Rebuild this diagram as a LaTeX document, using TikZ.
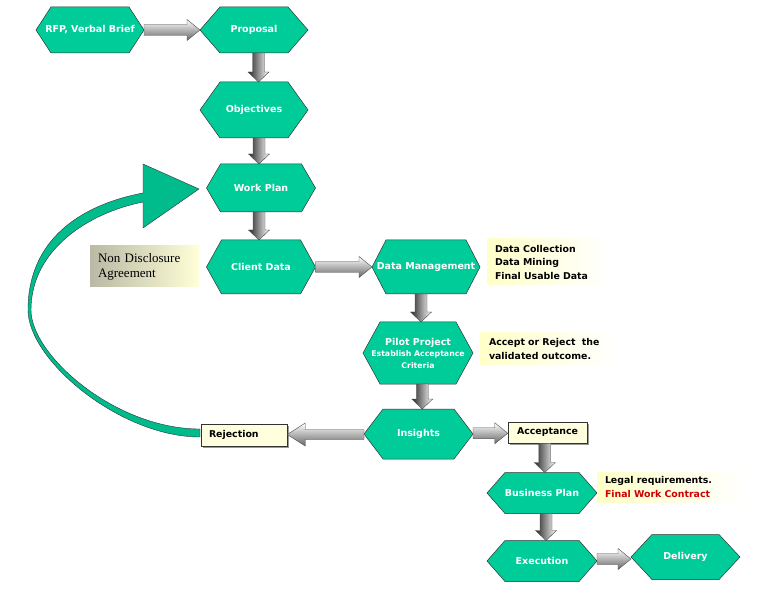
\documentclass[tikz,border=0pt]{standalone}
\usepackage{fontspec}
\setmainfont{DejaVu Sans}
\newfontfamily\ndafont{Liberation Serif}
\usetikzlibrary{calc,shadows}
\definecolor{hexgreen}{RGB}{0,204,153}
\definecolor{hexline}{RGB}{50,50,50}
\definecolor{noteyellow}{RGB}{255,255,200}
\definecolor{boxyellow}{RGB}{255,255,222}
\definecolor{ndagray}{RGB}{185,185,165}
\definecolor{ndayellow}{RGB}{255,255,215}
\definecolor{contractred}{RGB}{204,0,0}
\newcommand{\subsz}{\fontsize{7.8}{11.5}\selectfont}
\tikzset{
  hexshape/.style={fill=hexgreen, draw=hexline, line width=0.5pt},
  hextext/.style={inner sep=0pt, outer sep=0pt, text=white, align=center,
    font=\bfseries\fontsize{9.5}{11.5}\selectfont},
  harr/.style={top color=white, bottom color=black!60, draw=black!70, line width=0.4pt},
  varr/.style={left color=black!85, right color=white, draw=black!70, line width=0.4pt},
  notebox/.style={left color=noteyellow, right color=white, inner xsep=8pt, align=left,
    font=\bfseries\fontsize{9.4}{13.5}\selectfont},
  labelbox/.style={fill=boxyellow, draw=hexline, line width=0.5pt,
    drop shadow={shadow xshift=2pt, shadow yshift=-2pt, fill=black!40, opacity=1},
    font=\bfseries\fontsize{9.4}{10}\selectfont},
  bandstyle/.style={fill=hexgreen!92!black, draw=hexline, line width=0.4pt}
}
% #1 name, #2 cx, #3 cy, #4 w, #5 h, #6 slant, #7 text
\newcommand{\hexnode}[7]{%
  \filldraw[hexshape] ({#2-#4/2},#3) -- ({#2-#4/2+#6},{#3-#5/2}) -- ({#2+#4/2-#6},{#3-#5/2})
    -- ({#2+#4/2},#3) -- ({#2+#4/2-#6},{#3+#5/2}) -- ({#2-#4/2+#6},{#3+#5/2}) -- cycle;
  \node[hextext, minimum width=#4pt, minimum height=#5pt] (#1) at (#2,#3) {#7};
}
% right-pointing block arrow from #1 to #2
\newcommand{\rarrowx}[2]{%
  \shadedraw[harr] let \p1=(#1), \p2=(#2), \n1={(\y1+\y2)/2} in
    (\x1,{\n1+5.5pt}) -- ({\x2-13pt},{\n1+5.5pt}) -- ({\x2-13pt},{\n1+10.5pt})
    -- (\x2,{\n1+0pt}) -- ({\x2-13pt},{\n1-10.5pt}) -- ({\x2-13pt},{\n1-5.5pt})
    -- (\x1,{\n1-5.5pt}) -- cycle;
}
% left-pointing block arrow from #1 to #2
\newcommand{\larrowx}[2]{%
  \shadedraw[harr] let \p1=(#1), \p2=(#2), \n1={(\y1+\y2)/2} in
    (\x1,{\n1+5pt}) -- ({\x2+18pt},{\n1+5pt}) -- ({\x2+18pt},{\n1+11.5pt})
    -- (\x2,{\n1+0pt}) -- ({\x2+18pt},{\n1-11.5pt}) -- ({\x2+18pt},{\n1-5pt})
    -- (\x1,{\n1-5pt}) -- cycle;
}
% downward block arrow, #1 x offset, from #2 to #3
\newcommand{\darrowx}[3]{%
  \shadedraw[varr] let \p1=(#2), \p2=(#3), \n1={(\x1+\x2)/2+(#1)} in
    ({\n1-6pt},\y1) -- ({\n1-6pt},{\y2+10pt}) -- ({\n1-10.5pt},{\y2+10pt})
    -- ({\n1+0pt},\y2) -- ({\n1+10.5pt},{\y2+10pt}) -- ({\n1+6pt},{\y2+10pt})
    -- ({\n1+6pt},\y1) -- cycle;
}
\begin{document}
\begin{tikzpicture}[x=1pt,y=-1pt]
\useasboundingbox (0,0) rectangle (760,593);
\fill[white] (0,0) rectangle (760,593);

% curved return arrow
\filldraw[bandstyle] (200,437) .. controls (120,437) and (28,360) .. (28,310)
  .. controls (28,240) and (80,205) .. (143,193) -- (143,164) -- (199,189) -- (143,228)
  -- (143,202) .. controls (88,213) and (31,250) .. (31,310)
  .. controls (31,355) and (115,429) .. (200,429) -- cycle;

% hexagons
\hexnode{rfp}{90}{30}{108}{46}{15}{RFP, Verbal Brief}
\hexnode{prop}{254}{30}{108}{46}{20}{Proposal}
\hexnode{obj}{254}{110}{108}{56}{20}{Objectives}
\hexnode{wp}{261}{188}{109}{48}{14}{Work Plan}
\hexnode{cd}{261}{267}{109}{54}{15}{Client Data}
\hexnode{dm}{426}{267}{108}{54}{14}{Data Management}
\hexnode{pilot}{418}{353}{110}{62}{17}{Pilot Project\\\subsz Establish Acceptance\\\subsz Criteria}
\hexnode{ins}{418.5}{434}{109}{50}{19}{Insights}
\hexnode{bp}{542}{493}{110}{41}{18}{Business Plan}
\hexnode{ex}{542}{561}{110}{41}{18}{Execution}
\hexnode{del}{685.5}{557}{109}{45}{21}{Delivery}

% notes
\node[notebox, minimum width=123pt, minimum height=46pt, text width=107pt] (n1) at (548.5,262)
  {Data Collection\\Data Mining\\Final Usable Data};
\node[notebox, minimum width=135pt, minimum height=32pt, text width=117pt, inner xsep=9pt] (n2) at (547.5,349)
  {Accept or Reject\ \ the\\validated outcome.};
\node[notebox, minimum width=150pt, minimum height=30pt, text width=134pt] (n3) at (672,487)
  {Legal requirements.\\\textcolor{contractred}{Final Work Contract}};
\node[left color=ndagray, right color=ndayellow, minimum width=109pt, minimum height=41pt,
  text width=93pt, inner xsep=8pt, align=left, font=\ndafont\fontsize{13}{15}\selectfont] (nda) at (144.5,266.5)
  {Non Disclosure\\Agreement};

% label boxes
\node[labelbox, minimum width=86pt, minimum height=22pt, text width=70pt, inner xsep=8pt, align=left] (rej) at (244,435) {Rejection};
\node[labelbox, minimum width=79pt, minimum height=21pt, align=center] (acc) at (547.5,432.5) {Acceptance};

% connectors
\rarrowx{rfp.east}{prop.west}
\darrowx{4.5pt}{prop.south}{obj.north}
\darrowx{1.5pt}{obj.south}{wp.north}
\darrowx{-2pt}{wp.south}{cd.north}
\rarrowx{cd.east}{dm.west}
\darrowx{-1pt}{dm.south}{pilot.north}
\darrowx{4pt}{pilot.south}{ins.north}
\larrowx{ins.west}{rej.east}
\rarrowx{ins.east}{acc.west}
\darrowx{0pt}{acc.south}{bp.north}
\darrowx{4pt}{bp.south}{ex.north}
\rarrowx{ex.east}{del.west}
\end{tikzpicture}
\end{document}
